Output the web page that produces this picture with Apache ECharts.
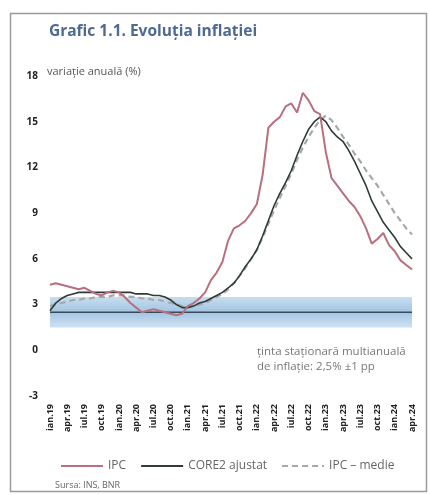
<!DOCTYPE html>
<html>
<head>
<meta charset="utf-8">
<script src="https://cdn.jsdelivr.net/npm/echarts@6/dist/echarts.min.js"></script>
<style>
  html, body { margin: 0; padding: 0; background: #fff; }
  #chart { width: 430px; height: 495px; }
</style>
</head>
<body>
<div id="chart"></div>
<script>
// Month abbreviations and years used to build the monthly category axis (ian.19 … apr.24)
const monthNames = ['ian', 'feb', 'mar', 'apr', 'mai', 'iun', 'iul', 'aug', 'sep', 'oct', 'nov', 'dec'];
const years = ['19', '20', '21', '22', '23', '24'];
const lastYearMonths = 4;

// Annual inflation rates (%), monthly
const ipc = [
  4.3, 4.4, 4.3, 4.2, 4.1, 4.0, 4.1, 3.9, 3.7, 3.6, 3.8, 3.9,
  3.8, 3.5, 3.1, 2.8, 2.5, 2.6, 2.7, 2.6, 2.5, 2.4, 2.3, 2.4,
  2.9, 3.1, 3.4, 3.8, 4.6, 5.1, 5.8, 7.2, 8.0, 8.2, 8.5, 9.0,
  9.6, 11.5, 14.6, 15.0, 15.3, 16.0, 16.2, 15.6, 16.9, 16.4, 15.7, 15.5,
  13.0, 11.3, 10.8, 10.3, 9.8, 9.4, 8.8, 8.0, 7.0, 7.3, 7.7, 6.9,
  6.5, 5.9, 5.6, 5.3
];
const core2 = [
  2.6, 3.1, 3.4, 3.6, 3.7, 3.8, 3.8, 3.8, 3.8, 3.8, 3.8, 3.8,
  3.8, 3.8, 3.8, 3.7, 3.7, 3.7, 3.6, 3.6, 3.5, 3.3, 3.0, 2.8,
  2.8, 2.9, 3.1, 3.2, 3.4, 3.6, 3.8, 4.1, 4.4, 4.9, 5.5, 6.0,
  6.6, 7.5, 8.5, 9.5, 10.3, 11.0, 11.8, 12.8, 13.7, 14.5, 15.0, 15.3,
  15.0, 14.4, 14.0, 13.7, 13.1, 12.4, 11.6, 10.8, 9.8, 9.1, 8.4, 7.9,
  7.4, 6.8, 6.4, 6.0
];
const ipcMedie = [
  2.9, 3.0, 3.1, 3.2, 3.3, 3.3, 3.4, 3.4, 3.5, 3.5, 3.5, 3.6,
  3.6, 3.6, 3.5, 3.5, 3.4, 3.4, 3.3, 3.3, 3.2, 3.1, 3.0, 2.9,
  2.9, 2.9, 3.0, 3.1, 3.3, 3.5, 3.7, 4.0, 4.4, 4.9, 5.4, 6.0,
  6.6, 7.4, 8.3, 9.2, 10.0, 10.8, 11.6, 12.5, 13.3, 14.0, 14.6, 15.1,
  15.4, 15.1, 14.6, 14.0, 13.5, 12.9, 12.4, 11.8, 11.3, 10.8, 10.2, 9.6,
  9.0, 8.5, 8.0, 7.6
];

// Stationary multi-annual inflation target and its tolerance band
const target = 2.5;
const band = [1.5, 3.5];

// Y-axis range and step
const yMin = -3, yMax = 18, yStep = 3;

const categories = [];
years.forEach((y, yi) => {
  const n = yi === years.length - 1 ? lastYearMonths : 12;
  for (let m = 0; m < n; m++) categories.push(monthNames[m] + '.' + y);
});

const chart = echarts.init(document.getElementById('chart'), null, { renderer: 'canvas' });

chart.setOption({
  backgroundColor: '#fff',
  animation: false,
  title: {
    text: 'Grafic 1.1. Evoluția inflației',
    left: 44, top: 19,
    textStyle: { fontFamily: 'Open Sans', fontSize: 15.5, fontWeight: 'bold', color: '#4d6994' }
  },
  grid: { left: 50, right: 18, top: 76, bottom: 99 },
  legend: {
    left: 55, top: 455,
    itemWidth: 42, itemHeight: 10, itemGap: 14,
    itemStyle: { opacity: 0 },
    textStyle: { fontFamily: 'Open Sans', fontSize: 12, color: '#666' },
    data: ['IPC', 'CORE2 ajustat', 'IPC – medie']
  },
  xAxis: {
    type: 'category',
    data: categories,
    boundaryGap: false,
    axisLine: { show: false },
    axisTick: { show: false },
    axisLabel: {
      interval: 2, rotate: 90, margin: 8,
      fontFamily: 'Open Sans', fontSize: 9, fontWeight: 'bold', color: '#222'
    },
    splitLine: { show: false }
  },
  yAxis: {
    type: 'value',
    min: yMin, max: yMax, interval: yStep,
    axisLine: { show: false },
    axisTick: { show: false },
    splitLine: { show: false },
    axisLabel: { margin: 12, fontFamily: 'Open Sans', fontSize: 10, fontWeight: 'bold', color: '#222' }
  },
  graphic: [
    {
      type: 'rect', silent: true,
      shape: { x: 10.5, y: 13.5, width: 416, height: 478 },
      style: { fill: 'none', stroke: '#9a9a9a', lineWidth: 1.5 }
    },
    {
      type: 'text', left: 47, top: 66, silent: true,
      style: { text: 'variație anuală (%)', font: '11px "Open Sans"', fill: '#555' }
    },
    {
      type: 'text', left: 257, top: 344, silent: true,
      style: {
        text: 'ținta staționară multianuală\nde inflație: 2,5% ±1 pp',
        font: '11.5px "Open Sans"', fill: '#777', lineHeight: 15
      }
    },
    {
      type: 'text', left: 55, top: 481, silent: true,
      style: { text: 'Sursa: INS, BNR', font: '9px "Open Sans"', fill: '#666' }
    }
  ],
  series: [
    {
      name: 'țintă', type: 'line', data: categories.map(() => target),
      symbol: 'none', silent: true,
      lineStyle: { color: '#3c4a55', width: 1.5 },
      markArea: {
        silent: true,
        itemStyle: {
          color: new echarts.graphic.LinearGradient(0, 0, 0, 1, [
            { offset: 0, color: 'rgba(190,215,236,0.85)' },
            { offset: 0.5, color: 'rgba(150,190,225,0.9)' },
            { offset: 1, color: 'rgba(195,218,238,0.8)' }
          ])
        },
        data: [[{ yAxis: band[0] }, { yAxis: band[1] }]]
      },
      z: 1
    },
    {
      name: 'IPC – medie', type: 'line', data: ipcMedie,
      symbol: 'none',
      lineStyle: { color: '#a8a8a8', width: 2.2, type: [6, 4] },
      itemStyle: { color: '#a8a8a8' },
      z: 2
    },
    {
      name: 'CORE2 ajustat', type: 'line', data: core2,
      symbol: 'none',
      lineStyle: { color: '#2f3b3b', width: 1.6 },
      itemStyle: { color: '#2f3b3b' },
      z: 3
    },
    {
      name: 'IPC', type: 'line', data: ipc,
      symbol: 'none',
      lineStyle: { color: '#b8707e', width: 2 },
      itemStyle: { color: '#b8707e' },
      z: 4
    }
  ]
});
</script>
</body>
</html>
